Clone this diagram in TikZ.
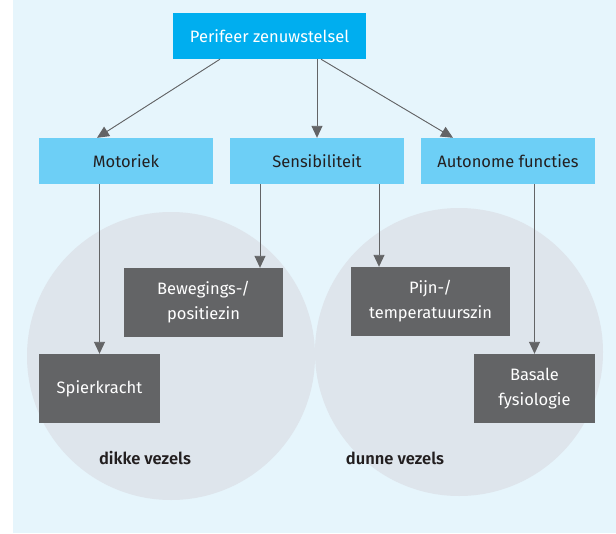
\documentclass[tikz,border=0pt]{standalone}
\usepackage{fontspec}
\setmainfont{Fira Sans}[BoldFont={Fira Sans SemiBold}]
\usetikzlibrary{arrows.meta,positioning,calc}

\definecolor{topblue}{HTML}{00AEEF}
\definecolor{rowblue}{HTML}{6DCFF6}
\definecolor{darkbox}{HTML}{636466}
\definecolor{bgblue}{HTML}{E6F5FC}
\definecolor{circlegray}{HTML}{DEE5EC}
\definecolor{txt}{HTML}{231F20}

\begin{document}
\begin{tikzpicture}[
    x=1pt, y=-1pt,
    font=\fontsize{16.5}{25}\selectfont,
    topbox/.style={fill=topblue, text=white, minimum width=193pt, minimum height=46pt, inner sep=0pt},
    rowbox/.style={fill=rowblue, text=txt, minimum width=174pt, minimum height=46pt, inner sep=0pt},
    leafbox/.style={fill=darkbox, text=white, minimum height=69pt, inner sep=0pt, align=center},
    fibre/.style={circle, fill=circlegray, minimum size=288pt, inner sep=0pt},
    fibrelabel/.style={font=\fontsize{16.5}{25}\selectfont\bfseries, text=txt},
    arrow/.style={-{Triangle[length=12pt,width=11pt]}, draw=darkbox, fill=darkbox, line width=0.9pt}
]

% background
\useasboundingbox (0,0) rectangle (616,533);
\fill[bgblue] (13,0) rectangle (616,533);

% fibre circles
\node[fibre] (thick) at (171,356) {};
\node[fibre] (thin) at (459,352) {};
\node[fibrelabel] (thicklbl) at (145,458) {dikke vezels};
\node[fibrelabel] (thinlbl) at (395,458) {dunne vezels};

% top
\node[topbox] (pns) at (269.5,36) {Perifeer zenuwstelsel};

% second row
\node[rowbox] (mot) at (126,161) {Motoriek};
\node[rowbox] (sens) at (317,161) {Sensibiliteit};
\node[rowbox] (auto) at (508,161) {Autonome functies};

% leaves
\node[leafbox, minimum width=121pt] (spier) at (99.5,388.5) {Spierkracht};
\node[leafbox, minimum width=159pt] (bew) at (203.5,302.5) {Bewegings-/\\positiezin};
\node[leafbox, minimum width=159pt] (pijn) at (430.5,301.5) {Pijn-/\\temperatuurszin};
\node[leafbox, minimum width=121pt] (bas) at (534.5,388.5) {Basale\\fysiologie};

% arrows
\draw[arrow] ([xshift=-49.5pt]pns.south) -- ([xshift=-29pt]mot.north);
\draw[arrow] (pns.south -| sens.north) -- (sens.north);
\draw[arrow] ([xshift=51.5pt]pns.south) -- ([xshift=-55pt]auto.north);
\draw[arrow] (spier.north |- mot.south) -- (spier.north);
\draw[arrow] ([xshift=-57pt]sens.south) -- ([xshift=-57pt]sens.south |- bew.north);
\draw[arrow] ([xshift=62pt]sens.south) -- ([xshift=62pt]sens.south |- pijn.north);
\draw[arrow] (bas.north |- auto.south) -- (bas.north);

\end{tikzpicture}
\end{document}
